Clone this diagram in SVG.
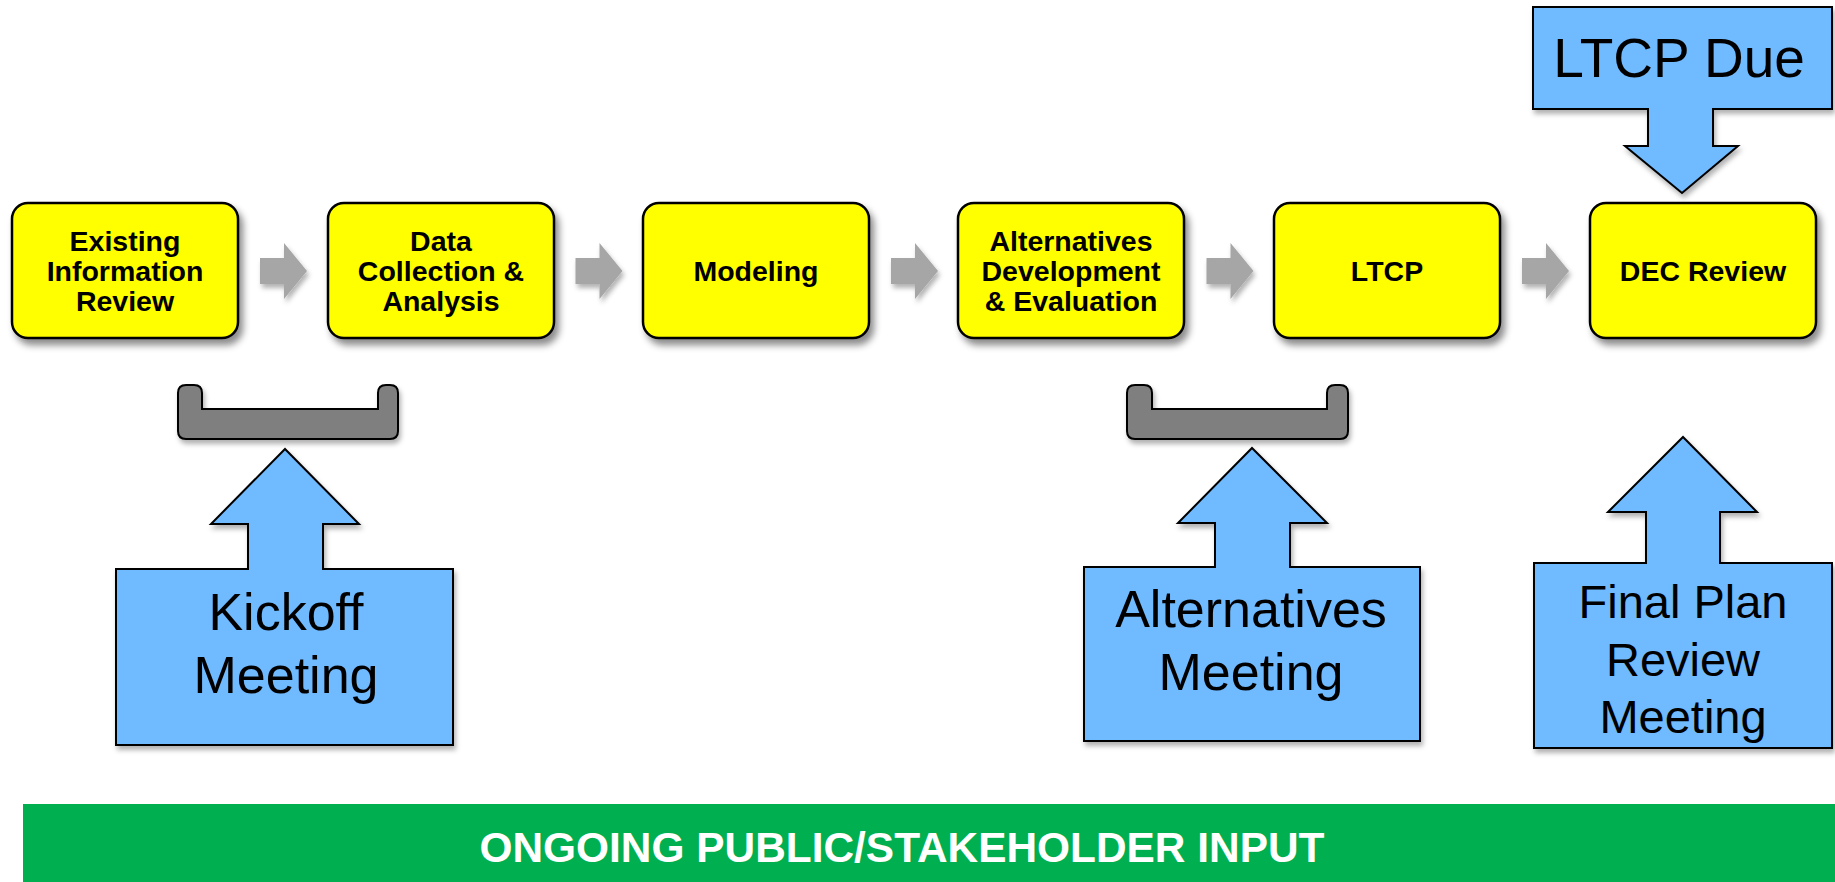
<svg xmlns="http://www.w3.org/2000/svg" width="1835" height="882" viewBox="0 0 1835 882">
<defs>
<filter id="sh" x="-20%" y="-20%" width="150%" height="150%">
<feDropShadow dx="4" dy="6" stdDeviation="3.5" flood-color="#000" flood-opacity="0.45"/>
</filter>
<filter id="shl" x="-20%" y="-20%" width="150%" height="150%">
<feDropShadow dx="2" dy="4" stdDeviation="2.5" flood-color="#000" flood-opacity="0.3"/>
</filter>
</defs>
<style>
.step rect{fill:#FFFF00;stroke:#000;stroke-width:2.5;filter:url(#sh)}
.step text{font-family:"Liberation Sans",Arial,sans-serif;font-weight:bold;font-size:28.5px;text-anchor:middle;fill:#000}
.call path{fill:#70BAFF;stroke:#000;stroke-width:2;stroke-linejoin:miter;filter:url(#shl)}
.call text{font-family:"Liberation Sans",Arial,sans-serif;font-size:52px;text-anchor:middle;fill:#000}
.brk{fill:#7F7F7F;stroke:#000;stroke-width:2;filter:url(#shl)}
.flow{fill:#A6A6A6;filter:url(#shl)}
</style>
<rect width="1835" height="882" fill="#fff"/>

<g id="connectors">
<path class="flow" d="M260,258 H284 V243 L307,271 L284,299 V284 H260 Z"/>
<path class="flow" transform="translate(315.5,0)" d="M260,258 H284 V243 L307,271 L284,299 V284 H260 Z"/>
<path class="flow" transform="translate(631,0)" d="M260,258 H284 V243 L307,271 L284,299 V284 H260 Z"/>
<path class="flow" transform="translate(946.5,0)" d="M260,258 H284 V243 L307,271 L284,299 V284 H260 Z"/>
<path class="flow" transform="translate(1262,0)" d="M260,258 H284 V243 L307,271 L284,299 V284 H260 Z"/>
</g>

<g id="step1" class="step">
<rect x="12" y="203" width="226" height="135" rx="16"/>
<text x="125" y="250.5">Existing</text>
<text x="125" y="280.5">Information</text>
<text x="125" y="310.5">Review</text>
</g>
<g id="step2" class="step">
<rect x="328" y="203" width="226" height="135" rx="16"/>
<text x="441" y="250.5">Data</text>
<text x="441" y="280.5">Collection &amp;</text>
<text x="441" y="310.5">Analysis</text>
</g>
<g id="step3" class="step">
<rect x="643" y="203" width="226" height="135" rx="16"/>
<text x="756" y="280.5">Modeling</text>
</g>
<g id="step4" class="step">
<rect x="958" y="203" width="226" height="135" rx="16"/>
<text x="1071" y="250.5">Alternatives</text>
<text x="1071" y="280.5">Development</text>
<text x="1071" y="310.5">&amp; Evaluation</text>
</g>
<g id="step5" class="step">
<rect x="1274" y="203" width="226" height="135" rx="16"/>
<text x="1387" y="280.5">LTCP</text>
</g>
<g id="step6" class="step">
<rect x="1590" y="203" width="226" height="135" rx="16"/>
<text x="1703" y="280.5">DEC Review</text>
</g>

<g id="bracket1">
<path class="brk" d="M186,385 L194,385 Q202,385 202,393 L202,409 L378,409 L378,393 Q378,385 386,385 L390,385 Q398,385 398,393 L398,431 Q398,439 390,439 L186,439 Q178,439 178,431 L178,393 Q178,385 186,385 Z"/>
</g>
<g id="bracket2">
<path class="brk" d="M1135,385 L1144,385 Q1152,385 1152,393 L1152,409 L1327,409 L1327,393 Q1327,385 1335,385 L1340,385 Q1348,385 1348,393 L1348,431 Q1348,439 1340,439 L1135,439 Q1127,439 1127,431 L1127,393 Q1127,385 1135,385 Z"/>
</g>

<g id="kickoff" class="call">
<path d="M116,569 H248 V524 H211 L285,449 L359,524 H323 V569 H453 V745 H116 Z"/>
<text x="286" y="630">Kickoff</text>
<text x="286" y="693">Meeting</text>
</g>
<g id="alternatives-meeting" class="call">
<path d="M1084,567 H1215 V523 H1178 L1252,448 L1327,523 H1290 V567 H1420 V741 H1084 Z"/>
<text x="1251" y="627">Alternatives</text>
<text x="1251" y="690">Meeting</text>
</g>
<g id="final-plan" class="call">
<path d="M1534,563 H1646 V512 H1608 L1683,437 L1757,512 H1720 V563 H1832 V748 H1534 Z"/>
<text x="1683" y="618" style="font-size:47px">Final Plan</text>
<text x="1683" y="676" style="font-size:47px">Review</text>
<text x="1683" y="733" style="font-size:47px">Meeting</text>
</g>
<g id="ltcp-due" class="call">
<path d="M1533,7 H1832 V109 H1713 V146 H1738 L1682,193 L1625,146 H1648 V109 H1533 Z"/>
<text x="1679" y="77" style="font-size:55px">LTCP Due</text>
</g>

<g id="banner">
<rect x="23" y="804" width="1812" height="78" fill="#00B050"/>
<text x="902" y="862" font-family="'Liberation Sans',Arial,sans-serif" font-weight="bold" font-size="43" fill="#fff" text-anchor="middle" textLength="845" lengthAdjust="spacingAndGlyphs">ONGOING PUBLIC/STAKEHOLDER INPUT</text>
</g>
</svg>
